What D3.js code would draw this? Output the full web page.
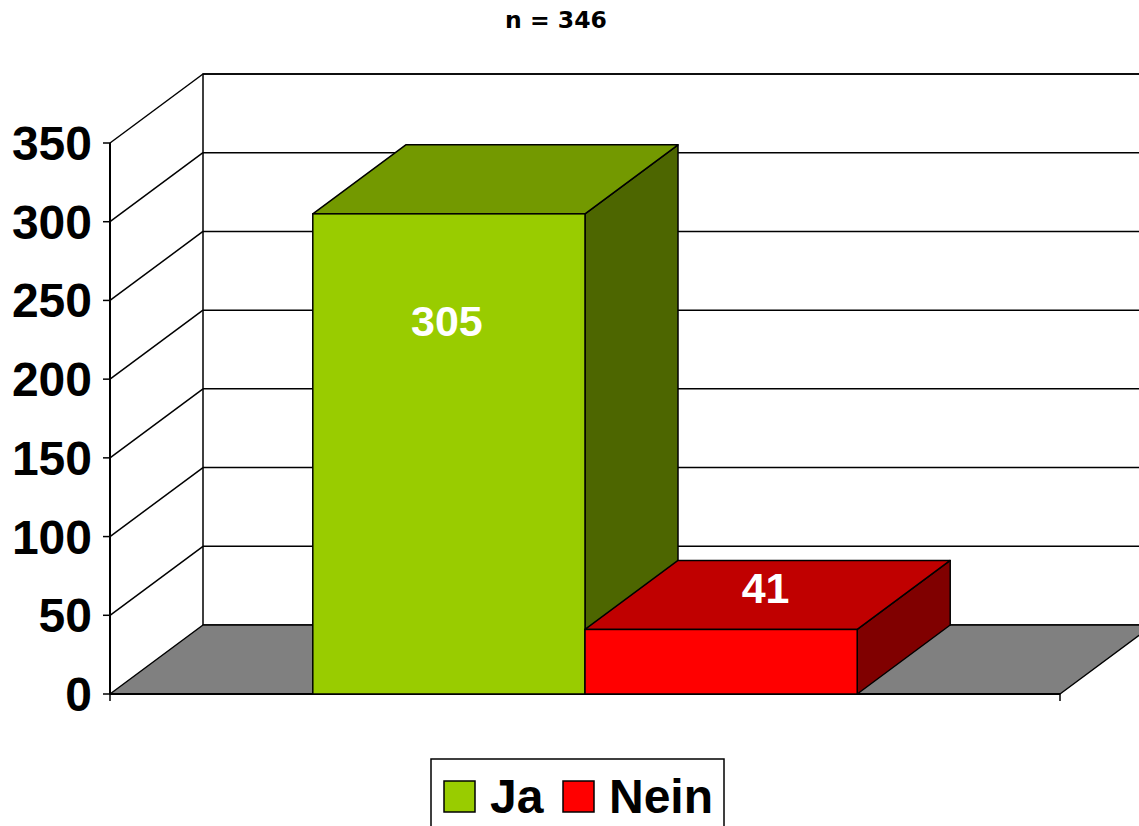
<!DOCTYPE html>
<html>
<head>
<meta charset="utf-8">
<script src="https://cdn.jsdelivr.net/npm/d3@7/dist/d3.min.js"></script>
<style>
  html, body { margin: 0; padding: 0; background: #fff; }
  svg { display: block; }
</style>
</head>
<body>
<script>
// ---- data ----
const title = "n = 346";
const seriesNames = ["Ja", "Nein"];
const seriesValues = [305, 41];
const seriesFront = ["#99CC00", "#FF0000"];
const seriesTop = ["#739900", "#C00000"];
const seriesSide = ["#4D6600", "#800000"];
const yTicks = [0, 50, 100, 150, 200, 250, 300, 350];

const W = 1139, H = 826;
const svg = d3.select("body").append("svg").attr("width", W).attr("height", H);
svg.append("rect").attr("width", W).attr("height", H).attr("fill", "#fff");

// 3D depth offset
const DX = 93, DY = -69;
const x0 = 110, x1 = 1060;
const y = d3.scaleLinear().domain([0, 350]).range([694, 143]);
const x = d3.scaleBand().domain(seriesNames).range([x0, x1]).paddingInner(0).paddingOuter(0.745);
const bw = x.bandwidth();

// back wall
svg.append("rect")
  .attr("x", x0 + DX).attr("y", y(350) + DY)
  .attr("width", x1 - x0).attr("height", y(0) - y(350))
  .attr("fill", "#fff").attr("stroke", "#000").attr("stroke-width", 1.5);

// gridlines on back wall
svg.append("g").selectAll("line").data(yTicks.filter(t => t > 0)).join("line")
  .attr("x1", x0 + DX).attr("x2", x1 + DX)
  .attr("y1", d => y(d) + DY).attr("y2", d => y(d) + DY)
  .attr("stroke", "#000").attr("stroke-width", 1.5);

// left wall diagonals
svg.append("g").selectAll("line").data(yTicks.filter(t => t > 0)).join("line")
  .attr("x1", x0).attr("y1", d => y(d))
  .attr("x2", x0 + DX).attr("y2", d => y(d) + DY)
  .attr("stroke", "#000").attr("stroke-width", 1.5);

// floor
svg.append("polygon")
  .attr("points", [[x0, y(0)], [x1, y(0)], [x1 + DX, y(0) + DY], [x0 + DX, y(0) + DY]].map(p => p.join(",")).join(" "))
  .attr("fill", "#808080").attr("stroke", "#000").attr("stroke-width", 1.5).attr("stroke-linejoin", "round");

// left axis
svg.append("line").attr("x1", x0).attr("x2", x0).attr("y1", y(350)).attr("y2", y(0))
  .attr("stroke", "#000").attr("stroke-width", 2);
svg.append("g").selectAll("line").data(yTicks).join("line")
  .attr("x1", x0 - 7).attr("x2", x0).attr("y1", d => y(d)).attr("y2", d => y(d))
  .attr("stroke", "#000").attr("stroke-width", 1.5);
svg.append("g").selectAll("text").data(yTicks).join("text")
  .attr("x", x0 - 18).attr("y", d => y(d) + 17)
  .attr("text-anchor", "end")
  .attr("font-family", "'Liberation Sans', Arial, sans-serif")
  .attr("font-weight", "bold").attr("font-size", 48)
  .attr("fill", "#000").text(d => d);

// bottom axis
svg.append("line").attr("x1", x0).attr("x2", x1).attr("y1", y(0)).attr("y2", y(0))
  .attr("stroke", "#000").attr("stroke-width", 2);
svg.append("g").selectAll("line").data([x0, x1]).join("line")
  .attr("x1", d => d).attr("x2", d => d).attr("y1", y(0)).attr("y2", y(0) + 7)
  .attr("stroke", "#000").attr("stroke-width", 1.5);

// bars
const bars = svg.append("g");
seriesNames.forEach((s, i) => {
  const v = seriesValues[i];
  const L = x(s), R = x(s) + bw, T = y(v), B = y(0);
  const g = bars.append("g");
  g.append("polygon")
    .attr("points", [[R, T], [R + DX, T + DY], [R + DX, B + DY], [R, B]].map(p => p.join(",")).join(" "))
    .attr("fill", seriesSide[i]).attr("stroke", "#000").attr("stroke-width", 1.5).attr("stroke-linejoin", "round");
  g.append("polygon")
    .attr("points", [[L, T], [L + DX, T + DY], [R + DX, T + DY], [R, T]].map(p => p.join(",")).join(" "))
    .attr("fill", seriesTop[i]).attr("stroke", "#000").attr("stroke-width", 1.5).attr("stroke-linejoin", "round");
  g.append("rect").attr("x", L).attr("y", T).attr("width", bw).attr("height", B - T)
    .attr("fill", seriesFront[i]).attr("stroke", "#000").attr("stroke-width", 1.5);
});

// value labels
seriesNames.forEach((s, i) => {
  const v = seriesValues[i];
  const T = y(v), B = y(0);
  const tall = (B - T) > 150;
  const lx = tall ? x(s) + bw / 2 - 2 : x(s) + bw / 2 + DX / 2 - 2;
  const ly = tall ? T + 122 : T - 26;
  svg.append("text").attr("x", lx).attr("y", ly)
    .attr("text-anchor", "middle")
    .attr("font-family", "'Liberation Sans', Arial, sans-serif")
    .attr("font-weight", "bold").attr("font-size", 43)
    .attr("fill", "#fff").text(v);
});

// title
svg.append("text").attr("x", 556).attr("y", 28)
  .attr("text-anchor", "middle")
  .attr("font-family", "'DejaVu Sans', Verdana, sans-serif")
  .attr("font-weight", "bold").attr("font-size", 23.5)
  .attr("fill", "#000").text(title);

// legend
const lg = svg.append("g");
lg.append("rect").attr("x", 431).attr("y", 759).attr("width", 293).attr("height", 90)
  .attr("fill", "#fff").attr("stroke", "#000").attr("stroke-width", 1.5);
const legX = [444, 563];
seriesNames.forEach((s, i) => {
  lg.append("rect").attr("x", legX[i]).attr("y", 781).attr("width", 31).attr("height", 31)
    .attr("fill", seriesFront[i]).attr("stroke", "#000").attr("stroke-width", 1.5);
  lg.append("text").attr("x", legX[i] + 46).attr("y", 813)
    .attr("font-family", "'Liberation Sans', Arial, sans-serif")
    .attr("font-weight", "bold").attr("font-size", 48)
    .attr("fill", "#000").text(s);
});
</script>
</body>
</html>
